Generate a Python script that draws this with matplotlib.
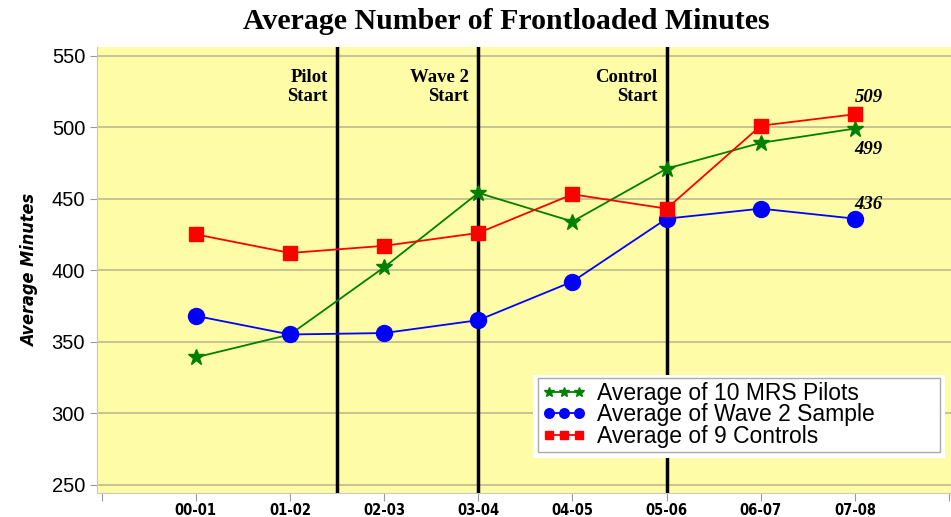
import numpy as np
import matplotlib
matplotlib.use('Agg')
import matplotlib.pyplot as plt
from matplotlib.patches import Rectangle
import matplotlib.transforms as mtransforms

years = ['00-01', '01-02', '02-03', '03-04', '04-05', '05-06', '06-07', '07-08']
pilots = [339, 355, 402, 454, 434, 471, 489, 499]
wave2 = [368, 355, 356, 365, 392, 436, 443, 436]
controls = [425, 412, 417, 426, 453, 443, 501, 509]

events = ['Pilot\nStart', 'Wave 2\nStart', 'Control\nStart']
event_x = [1.5, 3.0, 5.0]

serif = ['Liberation Serif', 'DejaVu Serif']
sans = ['Liberation Sans', 'DejaVu Sans']

fig = plt.figure(figsize=(9.51, 5.17), dpi=100)
ax = fig.add_axes([0.102, 0.046, 0.898, 0.863])
ax.set_facecolor('#fffca8')

x = np.arange(len(years))
ax.plot(x, pilots, color='#008000', marker='*', markersize=12, lw=1.3,
        label='Average of 10 MRS Pilots', zorder=4)
ax.plot(x, wave2, color='#0000ff', marker='o', markersize=11.5, lw=1.3,
        label='Average of Wave 2 Sample', zorder=4)
ax.plot(x, controls, color='#ff0000', marker='s', markersize=10, lw=1.3,
        label='Average of 9 Controls', zorder=4)

# event lines and labels
trans = mtransforms.blended_transform_factory(ax.transData, ax.transAxes)
for xv, txt in zip(event_x, events):
    ax.axvline(xv, color='black', lw=2.5, zorder=3)
    ax.text(xv - 0.1, 0.95, txt, transform=trans, ha='right', va='top',
            multialignment='right', family=serif, fontweight='bold',
            fontsize=13.5, linespacing=1.1)

# end labels
last = len(years) - 1
lab_kw = dict(textcoords='offset points', ha='center', va='center',
              family=serif, style='italic', fontweight='bold', fontsize=13.5)
ax.annotate(str(controls[-1]), (last, controls[-1]), xytext=(10, 12), **lab_kw)
ax.annotate(str(pilots[-1]), (last, pilots[-1]), xytext=(10, -15), **lab_kw)
ax.annotate(str(wave2[-1]), (last, wave2[-1]), xytext=(10, 10), **lab_kw)

ax.set_xlim(-1.05, 8.02)
ax.set_ylim(244, 556)
ax.set_yticks([250, 300, 350, 400, 450, 500, 550])
ax.set_xticks(np.arange(-1, 9))
ax.set_xticklabels([''] + years + [''], family='DejaVu Sans',
                   fontstretch='condensed', fontweight='bold', fontsize=10.5)
for lab in ax.get_yticklabels():
    lab.set_family(sans)
    lab.set_fontsize(14.5)

ax.yaxis.grid(True, color='#bdb98f', lw=1.2)
ax.set_axisbelow(True)
for s in ['top', 'right']:
    ax.spines[s].set_visible(False)
ax.spines['left'].set_color('#c8c8b0')
ax.spines['bottom'].set_color('#c8c8c8')
ax.tick_params(axis='both', colors='#999999', labelcolor='black', length=5)
ax.tick_params(axis='x', length=6, pad=1)

ax.set_ylabel('Average Minutes', family='DejaVu Sans', fontstretch='condensed',
              style='italic', fontweight='bold', fontsize=13, labelpad=9)

# white margin behind the legend
ax.add_patch(Rectangle((0.511, 0.078), 0.482, 0.187, transform=ax.transAxes,
                       facecolor='white', edgecolor='none', zorder=5))
leg = ax.legend(loc='lower left', bbox_to_anchor=(0.516, 0.092, 0.471, 0.16),
                mode='expand', prop={'family': sans, 'size': 16.5},
                fancybox=False, frameon=True, edgecolor='#aaaaaa',
                framealpha=1, borderpad=0.2, labelspacing=-0.08,
                handlelength=1.9, handletextpad=0.5, numpoints=3,
                markerscale=0.6, borderaxespad=0)
leg.set_zorder(6)
leg.get_frame().set_linewidth(1.0)

fig.suptitle('Average Number of Frontloaded Minutes', family=serif,
             fontweight='bold', fontsize=21.5, x=0.532, y=0.985)

fig.savefig('out.png', dpi=100)
